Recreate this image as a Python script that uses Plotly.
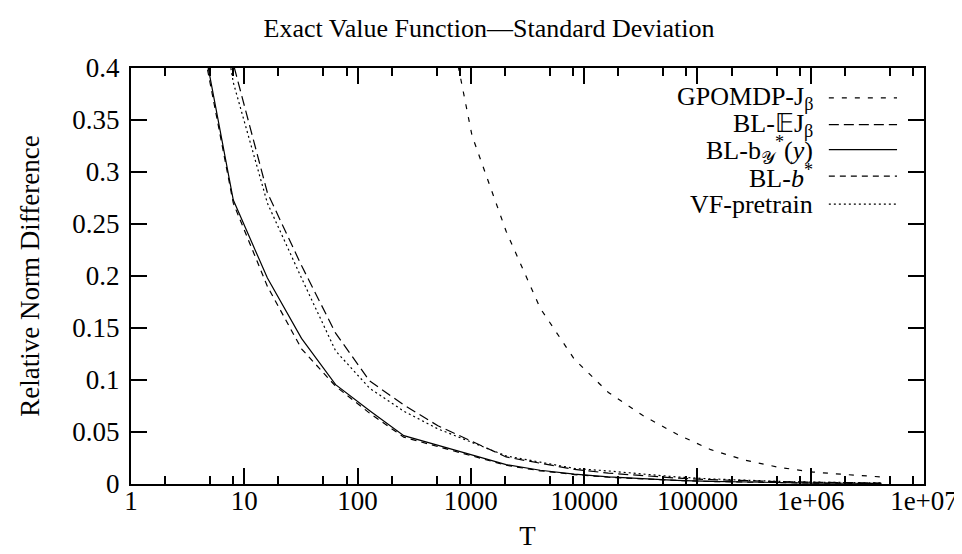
import plotly.graph_objects as go

# ---- data ----
T = [4, 8, 16, 32, 64, 128, 256, 512, 1024, 2048, 4096, 8192, 16384, 32768,
     65536, 131072, 262144, 524288, 1048576, 2097152, 4194304]
T_gpomdp = [512, 1024, 2048, 4096, 8192, 16384, 32768, 65536, 131072, 262144,
            524288, 1048576, 2097152, 4194304]

gpomdp_j = [0.50, 0.335, 0.243, 0.169, 0.120, 0.088, 0.066, 0.048, 0.033, 0.023,
            0.016, 0.0115, 0.009, 0.0068]
bl_ej = [0.60, 0.404, 0.280, 0.210, 0.145, 0.099, 0.076, 0.056, 0.041, 0.026,
         0.020, 0.0140, 0.0105, 0.0078, 0.0057, 0.0042, 0.0031, 0.0023, 0.0017,
         0.0012, 0.0009]
bl_by = [0.446, 0.273, 0.198, 0.140, 0.0955, 0.0705, 0.0465, 0.037, 0.0277, 0.0186,
         0.0132, 0.0095, 0.0068, 0.0049, 0.0035, 0.0025, 0.0018, 0.0013, 0.0009,
         0.0007, 0.0005]
bl_b = [0.44, 0.270, 0.190, 0.130, 0.094, 0.068, 0.045, 0.036, 0.027, 0.0180,
        0.0127, 0.0091, 0.0065, 0.0047, 0.0034, 0.0024, 0.0017, 0.0012, 0.0009,
        0.0007, 0.0005]
vf_pretrain = [0.58, 0.386, 0.270, 0.198, 0.128, 0.092, 0.070, 0.053, 0.040, 0.027,
               0.021, 0.0150, 0.0125, 0.0095, 0.0068, 0.0049, 0.0035, 0.0025,
               0.0018, 0.0013, 0.0010]

x_tickvals = [1, 10, 100, 1000, 10000, 100000, 1000000, 10000000]
x_ticktext = ["1", "10", "100", "1000", "10000", "100000", "1e+06", "1e+07"]
x_minor = [m * 10 ** k for k in range(7) for m in (2, 5, 8)]
y_tickvals = [0, 0.05, 0.1, 0.15, 0.2, 0.25, 0.3, 0.35, 0.4]

names = ["GPOMDP-J<sub>β</sub>", "BL-𝔼J<sub>β</sub>",
         "BL-b<sub>𝒴</sub><sup>*</sup>(<i>y</i>)", "BL-<i>b</i><sup>*</sup>",
         "VF-pretrain"]
dashes = ["5px,8px", "10px,5px", "solid", "6px,5px", "2px,3px"]
xs = [T_gpomdp, T, T, T, T]
ys = [gpomdp_j, bl_ej, bl_by, bl_b, vf_pretrain]

FONT = "Liberation Serif"
FS = 27

fig = go.Figure()
for x, y, n, d in zip(xs, ys, names, dashes):
    fig.add_trace(go.Scatter(x=x, y=y, mode="lines", name=n, showlegend=False,
                             line=dict(color="black", width=1.2, dash=d)))

# custom legend (text right, sample line to the right)
row_y = [0.928, 0.864, 0.804, 0.740, 0.673]
for n, d, ry in zip(names, dashes, row_y):
    fig.add_annotation(x=0.862, y=ry, xref="paper", yref="paper", text=n,
                       showarrow=False, xanchor="right", yanchor="middle",
                       font=dict(family=FONT, size=FS - 1, color="black"))
    fig.add_shape(type="line", xref="paper", yref="paper", x0=0.880, x1=0.966,
                  y0=ry, y1=ry, line=dict(color="black", width=1.2, dash=d))

axis_common = dict(showline=True, linewidth=2, linecolor="black", mirror="allticks",
                   ticks="inside", ticklen=16, tickwidth=2, tickcolor="black",
                   showgrid=False, zeroline=False,
                   tickfont=dict(family=FONT, size=FS, color="black"))

fig.update_xaxes(type="log", range=[0, 7], tickmode="array", tickvals=x_tickvals,
                 ticktext=x_ticktext, ticklabelstandoff=-8,
                 minor=dict(tickvals=x_minor, ticks="inside", ticklen=8,
                            tickwidth=2, tickcolor="black"),
                 title=dict(text="T", font=dict(family=FONT, size=FS, color="black"),
                            standoff=11),
                 **axis_common)
fig.update_yaxes(range=[0, 0.4], tickmode="array", tickvals=y_tickvals,
                 ticklabelstandoff=4,
                 title=dict(text="Relative Norm Difference",
                            font=dict(family=FONT, size=FS, color="black"),
                            standoff=25),
                 **axis_common)

fig.update_layout(
    width=962, height=554,
    margin=dict(l=123, r=38, t=60, b=78),
    paper_bgcolor="white", plot_bgcolor="white",
    font=dict(family=FONT),
    title=dict(text="Exact Value Function—Standard Deviation", x=0.5, xref="container",
               y=1 - 20 / 554, yref="container", xanchor="center", yanchor="middle",
               font=dict(family=FONT, size=FS - 1, color="black")),
)

fig.write_html("out.html")
